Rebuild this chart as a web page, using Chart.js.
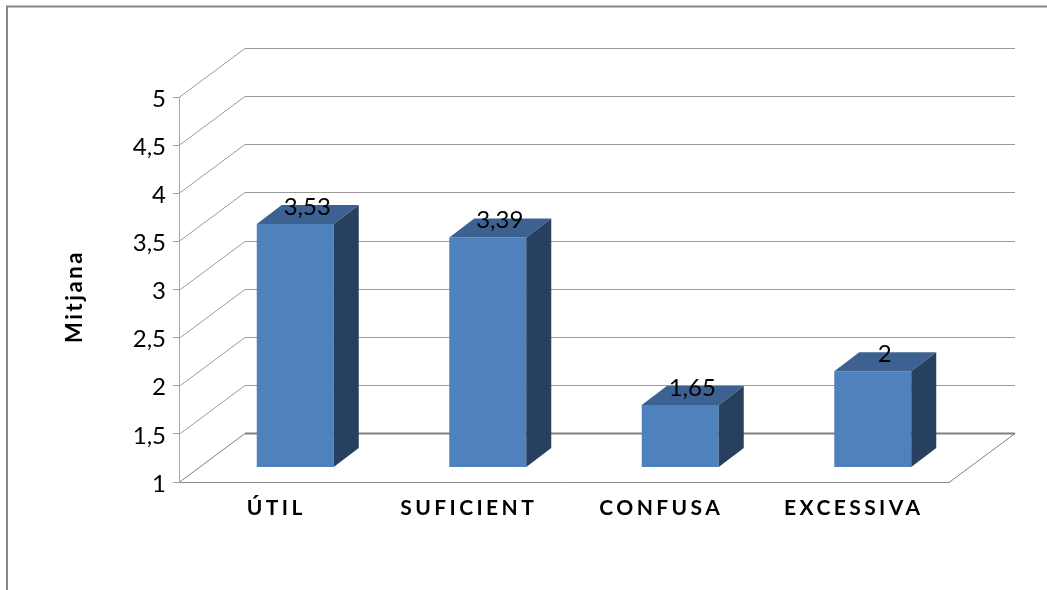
<!DOCTYPE html>
<html><head><meta charset="utf-8">
<style>html,body{margin:0;padding:0;background:#fff}#w{position:relative;width:1047px;height:590px}canvas{display:block}</style>
<script src="https://cdn.jsdelivr.net/npm/chart.js@4"></script></head>
<body><div id="w"><canvas id="c" width="1047" height="590"></canvas></div>
<script>
const categories = ['ÚTIL','SUFICIENT','CONFUSA','EXCESSIVA'];
const seriesName = 'Mitjana';
const values = [3.53,3.39,1.65,2];
const valueLabels = ['3,53','3,39','1,65','2'];
const axisMin = 1, axisMax = 5, axisStep = 0.5;

const FONT = 'Lato, Carlito, "Open Sans", sans-serif';
const GREY = '#8c8c8c';
const DEPTH = {dx:66, dy:-49};      // wall depth
const OFFS = {dx:20, dy:-14.5};     // bar position inside the floor
const BAR = {dx:25, dy:-19};        // bar depth

const threeD = {
  id:'threeD',
  beforeDraw(chart){
    const {ctx,chartArea:a,scales:{x,y}} = chart;
    ctx.save();
    // outer frame
    ctx.strokeStyle='#868686'; ctx.lineWidth=2;
    ctx.beginPath(); ctx.moveTo(7,590); ctx.lineTo(7,6.5); ctx.lineTo(1047,6.5); ctx.stroke();
    // wall gridlines
    y.ticks.forEach(t=>{
      const py=Math.round(y.getPixelForValue(t.value))+0.5;
      const isFloor=t.value===axisMin;
      ctx.strokeStyle=isFloor?'#808080':'#9a9a9a';
      ctx.lineWidth=1;
      ctx.beginPath(); ctx.moveTo(a.left,py); ctx.lineTo(a.left+DEPTH.dx,py+DEPTH.dy);
      ctx.lineTo(a.right+DEPTH.dx,py+DEPTH.dy);
      if(isFloor){ ctx.lineTo(a.right,py); }
      ctx.stroke();
      if(isFloor){
        ctx.lineWidth=2; ctx.beginPath(); ctx.moveTo(a.left+DEPTH.dx,py+DEPTH.dy);
        ctx.lineTo(a.right+DEPTH.dx,py+DEPTH.dy); ctx.stroke();
      }
    });
    ctx.restore();
    // spaced category labels, nudged tick labels and axis title
    if(!x._sp){
      x._sp=true;
      const orig=x.drawLabels;
      x.drawLabels=function(area){ const c=this.ctx; c.save(); c.letterSpacing='3.4px'; c.translate(1,2); orig.call(this,area); c.restore(); };
      const origY=y.drawLabels;
      y.drawLabels=function(area){ const c=this.ctx; c.save(); c.translate(0,2); origY.call(this,area); c.restore(); };
      const origT=y.drawTitle;
      y.drawTitle=function(){ const c=this.ctx; c.save(); c.letterSpacing='2.6px'; c.translate(0,7); origT.call(this); c.restore(); };
    }
  },
  beforeDatasetDraw(chart){ chart.ctx.save(); chart.ctx.translate(OFFS.dx,OFFS.dy); },
  afterDatasetDraw(chart){ chart.ctx.restore(); },
  afterDatasetsDraw(chart){
    const ctx=chart.ctx;
    chart.getDatasetMeta(0).data.forEach((b,i)=>{
      const l=b.x-b.width/2+OFFS.dx, r=b.x+b.width/2+OFFS.dx, t=b.y+OFFS.dy, bt=b.base+OFFS.dy;
      ctx.fillStyle='#3d6291';
      ctx.beginPath(); ctx.moveTo(l,t); ctx.lineTo(l+BAR.dx,t+BAR.dy); ctx.lineTo(r+BAR.dx,t+BAR.dy); ctx.lineTo(r,t); ctx.closePath(); ctx.fill();
      ctx.fillStyle='#284060';
      ctx.beginPath(); ctx.moveTo(r,t); ctx.lineTo(r+BAR.dx,t+BAR.dy); ctx.lineTo(r+BAR.dx,bt+BAR.dy); ctx.lineTo(r,bt); ctx.closePath(); ctx.fill();
      ctx.fillStyle='#000'; ctx.font='24px '+FONT; ctx.textAlign='center'; ctx.textBaseline='middle';
      ctx.fillText(valueLabels[i],(l+r)/2+12,t-17);
    });
  }
};

new Chart(document.getElementById('c'),{
  type:'bar',
  data:{labels:categories,datasets:[{label:seriesName,data:values,base:axisMin,backgroundColor:'#4f81bd',borderWidth:0,barPercentage:0.4,categoryPercentage:1,clip:false}]},
  plugins:[threeD],
  options:{
    responsive:false,animation:false,
    layout:{padding:{left:0,top:97,right:98,bottom:0}},
    plugins:{legend:{display:false},tooltip:{enabled:false}},
    scales:{
      x:{
        grid:{display:false,drawTicks:false},
        border:{display:true,color:GREY,width:1},
        ticks:{color:'#000',font:{family:FONT,size:21,weight:'bold'},padding:12,maxRotation:0,autoSkip:false},
        afterFit(s){ s.height=108; }
      },
      y:{
        min:axisMin,max:axisMax,
        grid:{drawOnChartArea:false,drawTicks:true,tickLength:6,color:'#a0a0a0'},
        border:{display:true,color:'#a8a8a8',width:1},
        ticks:{stepSize:axisStep,color:'#000',font:{family:FONT,size:24},padding:7,
          callback:v=>String(v).replace('.',',')},
        title:{display:true,text:seriesName,color:'#000',font:{family:FONT,size:22,weight:'bold'},padding:{top:62,bottom:0}},
        afterFit(s){ s.width=179; }
      }
    }
  }
});
</script></body></html>
